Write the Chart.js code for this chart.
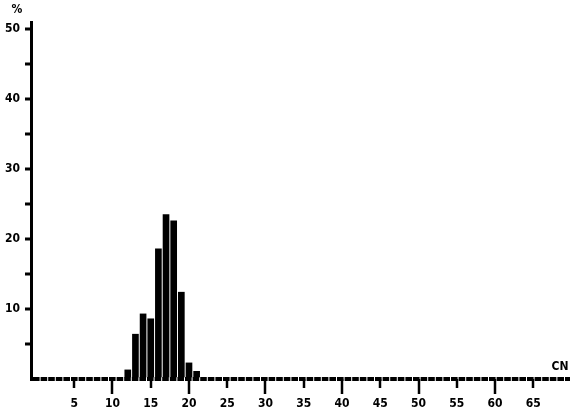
<!DOCTYPE html>
<html>
<head>
<meta charset="utf-8">
<script src="https://cdn.jsdelivr.net/npm/chart.js@4.4.1/dist/chart.umd.min.js"></script>
<style>
  html, body { margin: 0; padding: 0; background: #fff; }
  #wrap { width: 575px; height: 414px; position: relative; }
</style>
</head>
<body>
<div id="wrap"><canvas id="chart"></canvas></div>
<script>
// carbon number distribution (%)
const carbonNumbers = [12, 13, 14, 15, 16, 17, 18, 19, 20, 21];
const percents = [1.3, 6.4, 9.3, 8.6, 18.6, 23.5, 22.6, 12.4, 2.3, 1.1];
const xTicks = [5, 10, 15, 20, 25, 30, 35, 40, 45, 50, 55, 60, 65];
const yTicks = [0, 5, 10, 15, 20, 25, 30, 35, 40, 45, 50];
const yLabels = [10, 20, 30, 40, 50];

const FONT = "'Liberation Sans Narrow', 'DejaVu Sans Condensed', sans-serif";

// titles and the long/short tick marks under the x axis
const axisExtras = {
  id: 'axisExtras',
  afterDraw(chart) {
    const { ctx, chartArea } = chart;
    const xs = chart.scales.x;
    ctx.save();
    ctx.strokeStyle = '#000';
    ctx.lineWidth = 2.5;
    xTicks.forEach(v => {
      const px = Math.round(xs.getPixelForValue(v));
      ctx.beginPath();
      ctx.moveTo(px, chartArea.bottom);
      ctx.lineTo(px, chartArea.bottom + (v % 10 === 0 ? 15 : 9));
      ctx.stroke();
    });
    ctx.fillStyle = '#000';
    ctx.font = 'bold 12px ' + FONT;
    ctx.textAlign = 'center';
    ctx.textBaseline = 'middle';
    ctx.fillText('%', chartArea.left - 14, chartArea.top - 12);
    ctx.fillText('CN', chartArea.right - 10, chartArea.bottom - 12);
    ctx.restore();
  }
};

new Chart(document.getElementById('chart'), {
  type: 'bar',
  data: {
    datasets: [{
      data: carbonNumbers.map((cn, i) => ({ x: cn, y: percents[i] })),
      backgroundColor: '#000',
      borderWidth: 0,
      barThickness: 6
    }]
  },
  options: {
    responsive: true,
    maintainAspectRatio: false,
    animation: false,
    layout: { padding: { left: 0, right: 5, top: 22, bottom: 0 } },
    plugins: { legend: { display: false }, tooltip: { enabled: false } },
    scales: {
      x: {
        type: 'linear',
        min: -0.65,
        max: 69.8,
        offset: false,
        afterBuildTicks: scale => { scale.ticks = xTicks.map(v => ({ value: v })); },
        afterFit: scale => { scale.height = 35; },
        grid: {
          offset: false,
          drawOnChartArea: false,
          tickLength: 15,
          tickColor: 'rgba(0,0,0,0)'
        },
        border: { display: false },
        ticks: {
          color: '#000',
          padding: 3,
          maxRotation: 0,
          font: { family: FONT, size: 12, weight: 'bold' },
          callback: v => v
        }
      },
      y: {
        min: 0,
        max: 51,
        afterBuildTicks: scale => { scale.ticks = yTicks.map(v => ({ value: v })); },
        afterFit: scale => { scale.width = 31; },
        grid: {
          drawOnChartArea: true,
          lineWidth: 4,
          color: ctx => (ctx.tick && ctx.tick.value === 0 ? '#000' : 'rgba(0,0,0,0)'),
          tickLength: 6,
          tickWidth: 3,
          tickColor: ctx => (ctx.tick && ctx.tick.value === 0 ? 'rgba(0,0,0,0)' : '#000')
        },
        border: { display: true, color: '#000', width: 3, dash: [6.6, 1] },
        ticks: {
          color: '#000',
          padding: 5,
          font: { family: FONT, size: 12, weight: 'bold' },
          callback: v => (yLabels.includes(v) ? v : '')
        }
      }
    }
  },
  plugins: [axisExtras]
});
</script>
</body>
</html>
